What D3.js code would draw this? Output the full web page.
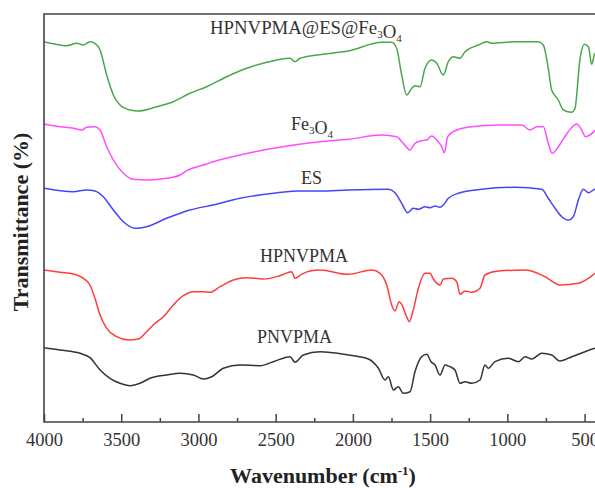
<!DOCTYPE html>
<html><head><meta charset="utf-8">
<script src="https://cdn.jsdelivr.net/npm/d3@7/dist/d3.min.js"></script>
<style>
body{margin:0;background:#fff;}
svg{display:block;font-family:"Liberation Serif","Times New Roman",serif;}
</style></head>
<body>
<svg id="c" width="595" height="488"></svg>
<script>
// Wavenumber (cm-1) and transmittance (arbitrary offset units)
const greenWN = [4000,3896,3853,3788,3745,3702,3670,3637,3594,3551,3508,3443,3389,3270,3163,3055,2947,2817,2688,2558,2407,2375,2342,2234,2030,1813,1749,1717,1684,1652,1619,1598,1565,1533,1490,1457,1415,1382,1350,1306,1274,1188,1133,1101,950,799,767,735,713,670,637,583,562,529,501,475,454,432,400];
const greenT  = [380.3,377,376.3,378.7,377,380.3,378.7,372,347,327,317,312,311,315.3,320.3,328.7,335.3,345.3,353.7,359.7,363.7,360.3,363.7,367,371,379.7,379.7,373.7,347,327,333.7,336.3,335.3,353.7,362,358.7,347,360.3,365.3,363.7,370.3,377,380.3,378.7,380.3,380.3,377,353.7,332,322,312,309.7,313.7,363.7,377.7,375.3,357.7,368.7,365];

const magWN = [4000,3896,3810,3756,3724,3670,3637,3594,3551,3486,3422,3335,3206,3119,3076,2947,2904,2731,2515,2299,2213,2030,1813,1717,1674,1630,1598,1555,1522,1490,1457,1425,1408,1386,1339,1231,1058,907,853,810,767,735,709,670,605,551,519,493,465,432,400];
const magT  = [298,295.3,293.7,292,294.7,295.3,292,275.3,262,248.7,242.7,242,243.7,247,251.3,258,260.3,267,273.7,278.7,280.3,282.7,287,285.3,278.7,272,278.7,281.3,282,286,282,275.3,269.3,285.3,291.3,295.3,297,297,292,295.3,295.3,278.7,268.7,275.3,290.3,298,292,285.3,287,291.3,293];

const blueWN = [4000,3896,3810,3724,3670,3616,3551,3486,3411,3335,3206,3055,2904,2731,2515,2364,2213,2030,1770,1727,1684,1645,1609,1576,1533,1500,1468,1436,1414,1382,1317,1166,950,777,735,691,648,605,573,540,508,475,432,400];
const blueT  = [233.7,231.3,230.3,232,231,225.3,212,200.3,193.7,195.3,203.7,212,217,223.7,228.7,231,231,232,232.7,229.3,218.7,209.3,213.7,212.7,215.3,214.3,216,214.7,217,223.7,228.7,232.7,234.7,232.7,223.7,213.7,205.3,202,205.3,222,232.7,229.3,232.7,233];

const redWN = [4000,3896,3810,3745,3702,3670,3637,3594,3529,3454,3389,3335,3281,3227,3163,3098,3033,2968,2925,2860,2774,2688,2580,2472,2396,2375,2332,2278,2213,2030,1878,1824,1781,1749,1727,1701,1684,1652,1635,1609,1576,1533,1500,1479,1436,1414,1360,1328,1306,1274,1231,1177,1145,1058,885,756,659,540,475,432,400];
const redT  = [152,149.7,148,143.7,137,123.7,107,93.7,85.3,82,83,90.3,98.7,105.3,117,126.3,130.3,130.3,129.7,135.3,142,144.3,143,146.3,150.3,143.7,147.7,151,152,147.7,152,148.7,137,117,111,120.3,117.7,105.3,100.3,112,133.7,148.7,148.7,143,137,143,143.7,140.3,127.7,131,129.7,133.7,147,151,152,145.3,137,138.7,143.7,148.7,152];

const blackWN = [4000,3896,3767,3702,3637,3573,3508,3443,3378,3314,3206,3119,3033,2968,2914,2839,2731,2601,2515,2407,2375,2321,2213,2030,1900,1835,1792,1770,1738,1706,1674,1630,1598,1555,1522,1494,1468,1436,1403,1371,1339,1306,1274,1231,1177,1145,1123,1080,993,928,885,842,777,713,659,583,497,432,400];
const blackT  = [74.3,72,68.7,64.3,52,43.7,38.7,36.3,38.7,43.7,47,48.7,47,43,45.3,53.7,57,56.3,60.3,65.3,59.7,67,70.3,67,63,53.7,42,45.3,32,35.3,28.7,30.3,50.3,65.3,67.7,60.3,57,47,57,55.3,52,38.7,40.3,38.7,42,57,53.7,60.3,63.7,60.3,65.3,63,68.7,67,61,65.3,70.3,73.7,75];

const majorTicks = [4000,3500,3000,2500,2000,1500,1000,500];
const minorTicks = [3750,3250,2750,2250,1750,1250,750];

const series = [
  {name:"green", wn:greenWN, t:greenT, color:"#4aa64a"},
  {name:"magenta", wn:magWN, t:magT, color:"#ff4dff"},
  {name:"blue", wn:blueWN, t:blueT, color:"#4646f5"},
  {name:"red", wn:redWN, t:redT, color:"#ff3c3c"},
  {name:"black", wn:blackWN, t:blackT, color:"#333333"}
];

const svg = d3.select("#c");
const W = 595, H = 488;
const mLeft = 44, mTop = 14, mBottom = 422;
const x = d3.scaleLinear().domain([4000,400]).range([mLeft, 600]);
const y = d3.scaleLinear().domain([0,408]).range([mBottom, mTop]);

svg.append("defs").append("clipPath").attr("id","clip")
  .append("rect").attr("x",mLeft).attr("y",mTop).attr("width",W-mLeft).attr("height",mBottom-mTop);

const line = d3.line().x(d=>x(d[0])).y(d=>y(d[1])).curve(d3.curveMonotoneX);
const g = svg.append("g").attr("clip-path","url(#clip)");
series.forEach(s=>{
  const pts = s.wn.map((w,i)=>[w,s.t[i]]);
  g.append("path").datum(pts).attr("d",line)
   .attr("fill","none").attr("stroke",s.color).attr("stroke-width",1.5)
   .attr("stroke-linejoin","round");
});

// axes
const axisColor = "#444";
const xAxis = d3.axisBottom(x).tickValues(majorTicks).tickSize(-8).tickPadding(11).tickFormat(d3.format("d"));
const ax = svg.append("g").attr("transform",`translate(0,${mBottom})`).call(xAxis);
ax.select(".domain").remove();
ax.selectAll("line").attr("stroke",axisColor).attr("stroke-width",1.5);
ax.selectAll("text").attr("font-size","18.5px").attr("fill","#333").attr("font-family","Liberation Serif, serif");
const mx = svg.append("g").attr("transform",`translate(0,${mBottom})`)
  .call(d3.axisBottom(x).tickValues(minorTicks).tickSize(-4).tickFormat(""));
mx.select(".domain").remove();
mx.selectAll("line").attr("stroke",axisColor).attr("stroke-width",1.5);

// frame lines
svg.append("path").attr("d",`M${W},${mTop}H${mLeft}V${mBottom}H${W}`)
  .attr("fill","none").attr("stroke",axisColor).attr("stroke-width",1.6);

// curve labels
function label(xp, yp, parts, fs){
  const t = svg.append("text").attr("x",xp).attr("y",yp).attr("font-size",(fs||18)+"px").attr("fill","#333");
  parts.forEach(p=>{
    if(p.sub){ t.append("tspan").attr("dy",4).attr("font-size","11px").text(p.s); t.append("tspan").attr("dy",-4).text(""); }
    else t.append("tspan").text(p.s);
  });
  return t;
}
label(210,34,[{s:"HPNVPMA@ES@Fe"},{s:"3",sub:true},{s:"O"},{s:"4",sub:true}],18.8);
label(291,130,[{s:"Fe"},{s:"3",sub:true},{s:"O"},{s:"4",sub:true}]);
label(301,184,[{s:"ES"}]);
label(260,262,[{s:"HPNVPMA"}]);
label(257,343,[{s:"PNVPMA"}]);

// axis titles
const xt = svg.append("text").attr("x",323).attr("y",483).attr("text-anchor","middle")
  .attr("font-size","22px").attr("font-weight","bold").attr("fill","#222");
xt.append("tspan").text("Wavenumber (cm");
xt.append("tspan").attr("dy",-8).attr("font-size","13px").text("-1");
xt.append("tspan").attr("dy",8).text(")");

svg.append("text").attr("transform","translate(28,222) rotate(-90)").attr("text-anchor","middle")
  .attr("font-size","22px").attr("font-weight","bold").attr("fill","#222").text("Transmittance (%)");
</script>
</body></html>
